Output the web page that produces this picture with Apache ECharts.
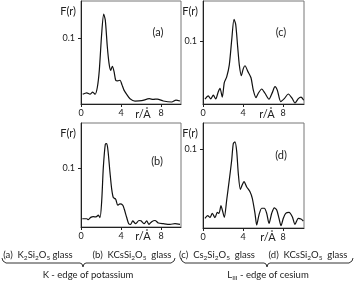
<!DOCTYPE html>
<html>
<head>
<meta charset="utf-8">
<script src="https://cdn.jsdelivr.net/npm/echarts@6/dist/echarts.min.js"></script>
<style>
  html, body { margin: 0; padding: 0; background: #fff; }
  #chart { width: 354px; height: 282px; }
</style>
</head>
<body>
<div id="chart"></div>
<script>
// r values (Å) and F(r) for each panel
const rA = [0.17, 0.57, 0.9, 1.17, 1.4, 1.63, 1.83, 2.07, 2.27, 2.43, 2.63, 2.8, 2.97, 3.13, 3.3, 3.47, 3.67, 3.9, 4.1, 4.3, 4.57, 4.9, 5.4, 6.07, 6.83, 7.23, 7.63, 8.23, 9.07, 9.5, 9.9]
const fA = [0.0147, 0.017, 0.015, 0.018, 0.0147, 0.025, 0.051, 0.107, 0.136, 0.127, 0.087, 0.062, 0.051, 0.057, 0.0495, 0.036, 0.035, 0.036, 0.029, 0.021, 0.0145, 0.008, 0.0045, 0.005, 0.008, 0.007, 0.0075, 0.0045, 0.003, 0.006, 0.0045]

const rB = [0.13, 0.57, 0.73, 0.97, 1.23, 1.5, 1.73, 1.9, 2.07, 2.23, 2.43, 2.57, 2.7, 2.9, 3.07, 3.23, 3.47, 3.67, 3.9, 4.17, 4.33, 4.57, 4.77, 4.97, 5.17, 5.47, 5.8, 6.0, 6.3, 6.57, 6.8, 7.07, 7.4, 7.73, 8.23, 8.9, 9.4, 9.9]
const fB = [0.014, 0.014, 0.0125, 0.0163, 0.0175, 0.017, 0.02, 0.0158, 0.044, 0.1, 0.14, 0.141, 0.129, 0.092, 0.064, 0.05, 0.047, 0.037, 0.039, 0.037, 0.03, 0.016, 0.0056, 0.0045, 0.0102, 0.0056, 0.011, 0.0105, 0.0056, 0.0102, 0.0045, 0.009, 0.011, 0.0068, 0.0056, 0.0045, 0.0056, 0.0045]

const rC = [0.2, 0.53, 0.77, 1.03, 1.27, 1.53, 1.7, 1.93, 2.13, 2.37, 2.63, 2.87, 3.1, 3.27, 3.47, 3.63, 3.83, 4.03, 4.2, 4.47, 4.8, 5.03, 5.3, 5.53, 5.87, 6.2, 6.6, 6.93, 7.2, 7.43, 7.77, 8.13, 8.53, 8.93, 9.2, 9.53, 9.8, 10.07]
const fC = [0.0079, 0.013, 0.008, 0.014, 0.008, 0.0195, 0.0248, 0.011, 0.034, 0.043, 0.062, 0.101, 0.134, 0.126, 0.09, 0.062, 0.045, 0.056, 0.0605, 0.052, 0.0415, 0.022, 0.0102, 0.017, 0.0237, 0.017, 0.0077, 0.018, 0.0274, 0.022, 0.0039, 0.0085, 0.0158, 0.0085, 0.0016, 0.0085, 0.011, 0.006]

const rD = [0.2, 0.47, 0.7, 0.93, 1.2, 1.43, 1.6, 1.8, 1.93, 2.13, 2.37, 2.63, 2.87, 3.03, 3.2, 3.37, 3.53, 3.73, 3.9, 4.1, 4.37, 4.7, 4.93, 5.2, 5.37, 5.6, 5.87, 6.13, 6.37, 6.6, 6.87, 7.13, 7.37, 7.6, 7.8, 8.03, 8.27, 8.6, 8.93, 9.2, 9.53, 9.8, 10.03]
const fD = [0.0123, 0.0156, 0.0135, 0.0186, 0.013, 0.0198, 0.0186, 0.0283, 0.023, 0.0135, 0.0355, 0.061, 0.086, 0.107, 0.109, 0.097, 0.069, 0.049, 0.054, 0.0587, 0.052, 0.046, 0.0376, 0.0186, 0.0038, 0.0166, 0.025, 0.025, 0.0186, 0.0058, 0.0186, 0.0256, 0.0228, 0.0123, 0.0029, 0.0123, 0.0186, 0.0198, 0.0143, 0.0046, 0.0123, 0.0114, 0.0089]

const xTicks = [0, 4, 8]
const yTicks = [0.1]
const panelNames = ['(a)', '(b)', '(c)', '(d)']

const FONT = 'Lato, "Open Sans", sans-serif'

// panel frames: a top-left, b bottom-left, c top-right, d bottom-right
const frames = [
  { left: 81, top: 1, width: 100, height: 103, xMax: 10, yMax: 0.156 },
  { left: 81, top: 123, width: 100, height: 104, xMax: 10, yMax: 0.176 },
  { left: 203, top: 1, width: 101, height: 103, xMax: 10.1, yMax: 0.163 },
  { left: 203, top: 123, width: 101, height: 105, xMax: 10.1, yMax: 0.133 }
]
const curves = [[rA, fA], [rB, fB], [rC, fC], [rD, fD]]

const chart = echarts.init(document.getElementById('chart'))

const grid = frames.map(f => ({
  left: f.left, top: f.top, width: f.width, height: f.height,
  show: true, borderColor: '#777', borderWidth: 1
}))

const xAxis = frames.map((f, i) => ({
  type: 'value', gridIndex: i, min: 0, max: f.xMax,
  axisLine: { lineStyle: { color: '#222', width: 1 } },
  axisTick: { customValues: xTicks, length: 3, inside: false, lineStyle: { color: '#222' } },
  axisLabel: { customValues: xTicks, margin: 5, fontFamily: FONT, fontSize: 9, color: '#222' },
  splitLine: { show: false }
}))

const yAxis = frames.map((f, i) => ({
  type: 'value', gridIndex: i, min: 0, max: f.yMax,
  name: 'F(r)', nameLocation: 'end', nameGap: -16,
  nameTextStyle: { fontFamily: FONT, fontSize: 11, color: '#222', align: 'right', padding: [0, 5, 0, 0] },
  axisLine: { lineStyle: { color: '#222', width: 1 } },
  axisTick: { customValues: yTicks, length: 3, lineStyle: { color: '#222' } },
  axisLabel: { customValues: yTicks, margin: 6, fontFamily: FONT, fontSize: 9, color: '#222' },
  splitLine: { show: false }
}))

const series = curves.map((c, i) => ({
  type: 'line', xAxisIndex: i, yAxisIndex: i,
  data: c[0].map((r, k) => [r, c[1][k]]),
  smooth: 0.25, showSymbol: false, silent: true,
  lineStyle: { color: '#111', width: 1.2 }
}))

const panelPos = [[158, 32], [157, 161], [281, 32], [281, 155]]
const xNamePos = [[143, 114], [143, 236], [267, 114], [268, 237]]
const subRich = {
  n: { fontFamily: FONT, fontSize: 9.5, lineHeight: 12, fill: '#222' },
  s: { fontFamily: FONT, fontSize: 6.5, lineHeight: 5, verticalAlign: 'bottom', fill: '#222' }
}

function txt(x, y, text, size, rich) {
  return {
    type: 'text', x: x, y: y, silent: true,
    style: { text: text, fontFamily: FONT, fontSize: size, fill: '#222', align: 'center', verticalAlign: 'middle', rich: rich }
  }
}

// curly brace under each pair of labels
function brace(x0, x1, xm) {
  return {
    type: 'polyline', silent: true,
    shape: {
      points: [[x0, 258], [x0 + 1, 261], [x0 + 4, 263], [xm - 3, 263], [xm - 1, 264], [xm, 267],
        [xm + 1, 264], [xm + 3, 263], [x1 - 4, 263], [x1 - 1, 261], [x1, 258]]
    },
    style: { fill: null, stroke: '#333', lineWidth: 1 }
  }
}

const graphic = [
  ...panelNames.map((p, i) => txt(panelPos[i][0], panelPos[i][1], p, 11)),
  ...xNamePos.map(p => txt(p[0], p[1], 'r/Å', 11)),
  txt(38, 255, '{n|(a)  K}{s|2}{n|Si}{s|2}{n|O}{s|5}{n| glass}', 9.5, subRich),
  txt(132, 255, '{n|(b)  KCsSi}{s|2}{n|O}{s|5}{n|  glass}', 9.5, subRich),
  txt(217, 255, '{n|(c)  Cs}{s|2}{n|Si}{s|2}{n|O}{s|5}{n|  glass}', 9.5, subRich),
  txt(308, 255, '{n|(d)  KCsSi}{s|2}{n|O}{s|5}{n|  glass}', 9.5, subRich),
  txt(88, 275, 'K - edge of potassium', 9.5),
  txt(268, 275, '{n|L}{s|III}{n| - edge of cesium}', 9.5, subRich),
  brace(2, 175, 83),
  brace(181, 353, 267)
]

chart.setOption({
  animation: false,
  backgroundColor: '#fff',
  grid: grid,
  xAxis: xAxis,
  yAxis: yAxis,
  series: series,
  graphic: graphic
})
</script>
</body>
</html>
